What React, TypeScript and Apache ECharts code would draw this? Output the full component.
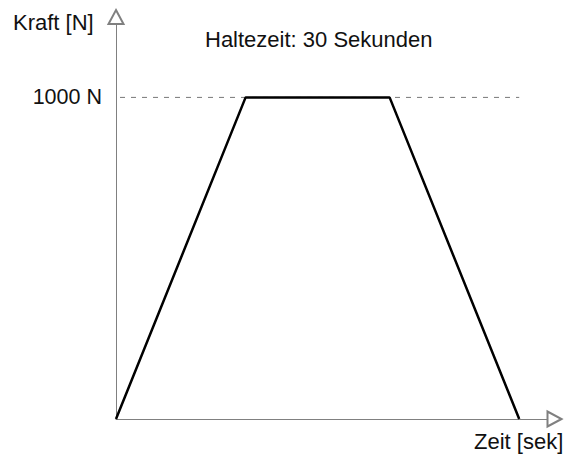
import React, { useEffect, useRef } from "react";
import * as echarts from "echarts";

const timeValues = [0, 27, 57, 84];
const forceValues = [0, 1000, 1000, 0];
const referenceTimes = [0, 84];
const referenceForce = [1000, 1000];
const xMax = 91.35;
const yMax = 1250;
const yTickLabel = "1000 N";
const yTitle = "Kraft [N]";
const xTitle = "Zeit [sek]";
const holdLabel = "Haltezeit: 30 Sekunden";

const FONT = "Liberation Sans, Arial, sans-serif";

export default function App() {
  const ref = useRef<HTMLDivElement>(null);
  useEffect(() => {
    if (!ref.current) return;
    const chart = echarts.init(ref.current, null, { renderer: "svg" });
    const axisLineStyle = { color: "#808080", width: 1 };
    chart.setOption({
      animation: false,
      backgroundColor: "#ffffff",
      grid: { left: 116, right: 16.5, top: 17, bottom: 39, containLabel: false },
      xAxis: {
        type: "value",
        min: 0,
        max: xMax,
        axisLine: {
          show: true,
          lineStyle: axisLineStyle,
          symbol: ["none", "emptyTriangle"],
          symbolSize: [15, 14],
        },
        axisTick: { show: false },
        axisLabel: { show: false },
        splitLine: { show: false },
      },
      yAxis: {
        type: "value",
        min: 0,
        max: yMax,
        interval: 1000,
        axisLine: {
          show: true,
          lineStyle: axisLineStyle,
          symbol: ["none", "emptyTriangle"],
          symbolSize: [15, 14],
        },
        axisTick: { show: false },
        splitLine: { show: false },
        axisLabel: {
          show: true,
          margin: 14,
          fontSize: 21.5,
          fontFamily: FONT,
          color: "#111111",
          showMaxLabel: false,
          formatter: (v: number) => (v === 1000 ? yTickLabel : ""),
        },
      },
      graphic: [
        {
          type: "text",
          left: 13,
          top: 11,
          style: { text: yTitle, fontSize: 22, fontFamily: FONT, fill: "#111111" },
        },
        {
          type: "text",
          left: 205,
          top: 28,
          style: { text: holdLabel, fontSize: 22, fontFamily: FONT, fill: "#111111" },
        },
        {
          type: "text",
          left: 474,
          top: 430,
          style: { text: xTitle, fontSize: 22, fontFamily: FONT, fill: "#111111" },
        },
      ],
      series: [
        {
          type: "line",
          data: referenceTimes.map((t, i) => [t, referenceForce[i]]),
          symbol: "none",
          z: 1,
          lineStyle: { color: "#777777", width: 1, type: [5, 6], dashOffset: 7 },
        },
        {
          type: "line",
          data: timeValues.map((t, i) => [t, forceValues[i]]),
          symbol: "none",
          z: 2,
          lineStyle: { color: "#000000", width: 2.5 },
        },
      ],
    });
    return () => chart.dispose();
  }, []);
  return <div ref={ref} style={{ width: 571, height: 458, position: "absolute", left: 0, top: 0 }} />;
}
